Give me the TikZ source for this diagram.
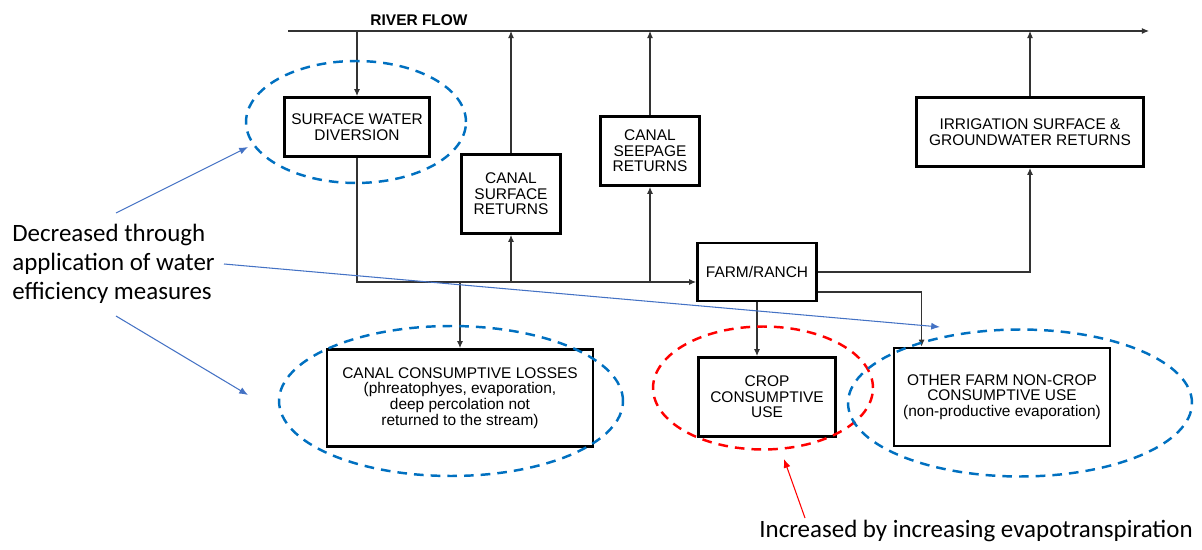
\documentclass[tikz,border=0pt]{standalone}
\usepackage{fontspec}
\setmainfont{Liberation Sans}
\newfontfamily\calibri{Carlito}
\usetikzlibrary{positioning, calc, arrows.meta, shapes.geometric}
\definecolor{dashblue}{RGB}{0,112,192}
\definecolor{noteblue}{RGB}{68,114,196}

\begin{document}
\begin{tikzpicture}
    [x=0.02cm, y=-0.02cm,
    flowbox/.style={rectangle, draw=black, line width=1.6pt, align=center, inner sep=2pt, font=\fontsize{8.8}{8.9}\selectfont},
    flowarrow/.style={draw=black!80, line width=0.6pt, -{Latex[length=4pt,width=3.4pt]}},
    ring/.style={ellipse, draw=dashblue, line width=1.4pt, dash pattern=on 5.5pt off 4pt, inner sep=0pt},
    notetext/.style={font=\calibri\fontsize{14.2}{16.4}\selectfont, inner sep=0pt},
    notearrow/.style={draw=noteblue, line width=0.6pt, -{Latex[length=5pt,width=4pt]}},]

    \useasboundingbox (0,0) rectangle (1202,550);

    %Nodes
    \node[flowbox, minimum width=2.9cm, minimum height=1.18cm](SWD) at (357,127){SURFACE WATER\\DIVERSION};
    \node[flowbox, minimum width=1.98cm, minimum height=1.58cm](CSR) at (511,194){CANAL\\SURFACE\\RETURNS};
    \node[flowbox, minimum width=1.98cm, minimum height=1.38cm](SEEP) at (650,151){CANAL\\SEEPAGE\\RETURNS};
    \node[flowbox, minimum width=4.54cm, minimum height=1.38cm](IRR) at (1030,132){IRRIGATION SURFACE \&\\GROUNDWATER RETURNS};
    \node[flowbox, minimum width=2.38cm, minimum height=1.16cm](FARM) at (757,272){FARM/RANCH};
    \node[flowbox, minimum width=5.32cm, minimum height=1.94cm](CCL) at (460,398){CANAL CONSUMPTIVE LOSSES\\(phreatophyes, evaporation,\\deep percolation not\\returned to the stream)};
    \node[flowbox, minimum width=2.74cm, minimum height=1.58cm](CROP) at (767,397){CROP\\CONSUMPTIVE\\USE};
    \node[flowbox, minimum width=4.32cm, minimum height=1.96cm](OTHER) at (1002,397){OTHER FARM NON-CROP\\CONSUMPTIVE USE\\(non-productive evaporation)};

    %River
    \coordinate (riverstart) at (288,31);
    \coordinate (riverend) at (1149,31);
    \draw[flowarrow](riverstart)--(riverend);

    %Lines
    \coordinate (farmin) at ($(FARM.west)+(0,10)$);
    \coordinate (farmout) at ($(FARM.east)+(0,20)$);
    \coordinate (otherin) at ($(OTHER.north west)+(29,0)$);
    \draw[flowarrow](SWD.north |- riverstart)--(SWD.north);
    \draw[flowarrow](CSR.north)--(CSR.north |- riverstart);
    \draw[flowarrow](SEEP.north)--(SEEP.north |- riverstart);
    \draw[flowarrow](IRR.north)--(IRR.north |- riverstart);

    \draw[flowarrow](SWD.south)|-(farmin);
    \draw[flowarrow](CSR.south |- farmin)--(CSR.south);
    \draw[flowarrow](SEEP.south |- farmin)--(SEEP.south);
    \draw[flowarrow](CCL.north |- farmin)--(CCL.north);

    \draw[flowarrow](FARM.east)-|(IRR.south);
    \draw[flowarrow](farmout)-|(otherin);
    \draw[flowarrow](FARM.south)--(FARM.south |- CROP.north);

    %Rings
    \node[ring, minimum width=4.4cm, minimum height=2.44cm](SWDring) at (356,122){};
    \node[ring, minimum width=6.88cm, minimum height=3cm](CCLring) at (451,401){};
    \node[ring, draw=red, minimum width=4.4cm, minimum height=2.46cm](CROPring) at (763,388){};
    \node[ring, minimum width=6.88cm, minimum height=2.94cm](OTHERring) at (1020,403){};

    %Labels
    \node[font=\bfseries\fontsize{8.8}{9}\selectfont](riverlabel) at (419,20){RIVER FLOW};
    \node[notetext, align=left, anchor=west](decreased) at (12,264){Decreased through\\application of water\\efficiency measures};
    \node[notetext](increased) at (976,531){Increased by increasing evapotranspiration};

    %Notes
    \coordinate (decA) at (116,213);
    \coordinate (decB) at (224,264);
    \coordinate (decC) at (116,316);
    \coordinate (toSWD) at (248,147);
    \coordinate (toOTHER) at (940,327);
    \coordinate (toCCL) at (248,395);
    \coordinate (incA) at (805,518);
    \coordinate (toCROP) at (784,459);
    \draw[notearrow](decA)--(toSWD);
    \draw[notearrow](decB)--(toOTHER);
    \draw[notearrow](decC)--(toCCL);
    \draw[notearrow, draw=red](incA)--(toCROP);

\end{tikzpicture}
\end{document}
